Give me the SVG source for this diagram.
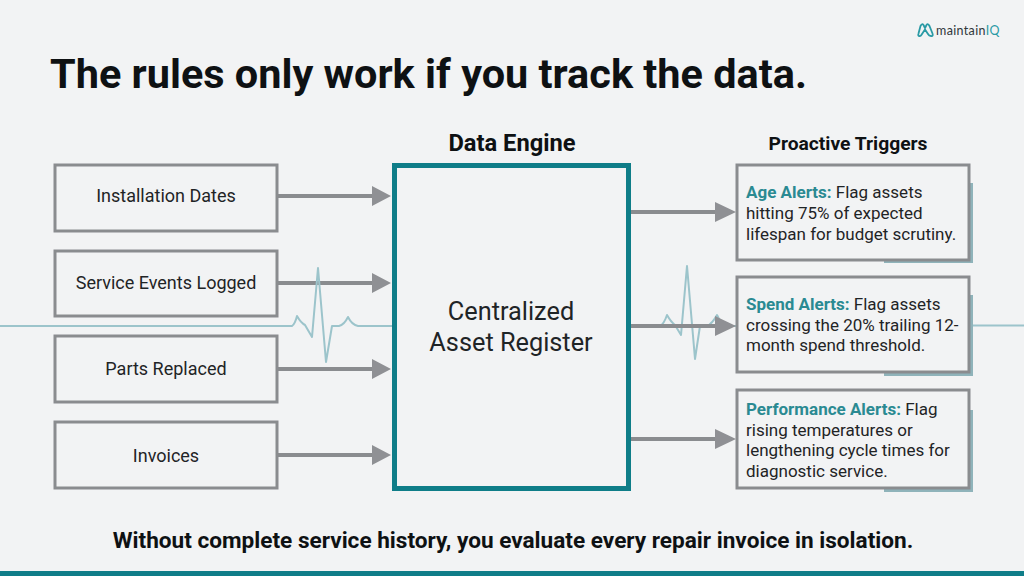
<svg xmlns="http://www.w3.org/2000/svg" width="1024" height="576" viewBox="0 0 1024 576">
<defs>
<style>
text{font-family:Roboto,"Liberation Sans",sans-serif;fill:#1f2426}
.box{fill:#f2f3f4;stroke:#8a8c8f;stroke-width:3}
.lab{font-size:18px;text-anchor:middle}
.alert{font-size:17px}
.teal{fill:#2a8a92;font-weight:700}
.sh{fill:#8fb3ba}
.ekg{fill:none;stroke:#9cc4cb;stroke-width:2;stroke-linejoin:round}
.conn{stroke:#8a8c8f;stroke-width:4;fill:none}
.head{fill:#8f9094}
</style>
</defs>
<rect width="1024" height="576" fill="#f2f3f4"/>
<g id="ekg-right">
<path class="ekg" d="M630 326H660Q664 324 667 315Q671 322 675 325L681 335L687 266L695 359L700 326H707Q712 324 717 315Q721 324 726 326H738"/>
<path class="ekg" d="M970 325.500H1024"/>
</g>
<g id="title"><text x="50" y="88" style="font-size:41.450px;font-weight:700;fill:#0e1113">The rules only work if you track the data.</text></g>
<g id="logo">
<path d="M918.500 33.500Q917.500 36.500 920 36Q921 36 922 34L925 29.500L928 34Q929 36 931 36Q933.500 36.500 932.500 33.500L929.500 26Q928 23 926.500 25L925 28L923.500 25Q922 23 920.500 26Z" fill="none" stroke="#2a9aa5" stroke-width="1.800" stroke-linejoin="round"/>
<text x="936" y="35" style="font-size:12.500px;letter-spacing:.35px;font-family:Lato,sans-serif;fill:#30363a">maintain<tspan fill="#2a9aa5">IQ</tspan></text>
</g>
<g id="connectors">
<path class="conn" d="M277 196H372M277 283H372M277 369H372M277 455H372M631 212H716M631 326H716M631 439H716"/>
<path class="head" d="M372 186L391 196L372 206ZM372 273L391 283L372 293ZM372 359L391 369L372 379ZM372 445L391 455L372 465ZM715 202L736 212L715 222ZM715 316L736 326L715 336ZM715 429L736 439L715 449Z"/>
</g>
<g id="ekg-left">
<path class="ekg" d="M0 326H292Q295 324 297 316Q301 323 305 325L312 337L318 268L326 362L332 326H339Q344 325 348 317Q352 325 358 326H393"/>
</g>
<g id="n-install"><rect class="box" x="55" y="165" width="222" height="66"/><text class="lab" x="166" y="202">Installation Dates</text></g>
<g id="n-service"><rect class="box" x="55" y="251" width="222" height="65"/><text class="lab" x="166" y="289">Service Events Logged</text></g>
<g id="n-parts"><rect class="box" x="55" y="336" width="222" height="66"/><text class="lab" x="166" y="375">Parts Replaced</text></g>
<g id="n-invoices"><rect class="box" x="55" y="422" width="222" height="66"/><text class="lab" x="166" y="462">Invoices</text></g>
<g id="n-engine">
<text x="512" y="151" text-anchor="middle" style="font-size:23.700px;font-weight:700;fill:#0e1113">Data Engine</text>
<rect x="394.500" y="165.500" width="234" height="323" fill="#f2f3f4" stroke="#0f7d88" stroke-width="5"/>
<text x="511" y="320" text-anchor="middle" style="font-size:25.300px">Centralized</text>
<text x="511" y="351" text-anchor="middle" style="font-size:25.300px">Asset Register</text>
</g>
<g id="triggers-head"><text x="848" y="150" text-anchor="middle" style="font-size:19.250px;font-weight:700;fill:#0e1113">Proactive Triggers</text></g>
<g id="n-age">
<path class="sh" d="M884 263V258H968V183H973V263Z"/>
<rect class="box" x="737" y="165" width="232" height="95"/>
<text class="alert" x="746" y="198"><tspan class="teal">Age Alerts:</tspan> Flag assets</text>
<text class="alert" x="746" y="219">hitting 75% of expected</text>
<text class="alert" x="746" y="240">lifespan for budget scrutiny.</text>
</g>
<g id="n-spend">
<path class="sh" d="M884 376V372H968V295H973V376Z"/>
<rect class="box" x="737" y="277" width="232" height="95"/>
<text class="alert" x="746" y="310"><tspan class="teal">Spend Alerts:</tspan> Flag assets</text>
<text class="alert" x="746" y="331">crossing the 20% trailing 12-</text>
<text class="alert" x="746" y="351">month spend threshold.</text>
</g>
<g id="n-perf">
<path class="sh" d="M884 492V488H968V410H973V492Z"/>
<rect class="box" x="737" y="390" width="232" height="98"/>
<text class="alert" x="746" y="415"><tspan class="teal">Performance Alerts:</tspan> Flag</text>
<text class="alert" x="746" y="436">rising temperatures or</text>
<text class="alert" x="746" y="456">lengthening cycle times for</text>
<text class="alert" x="746" y="477">diagnostic service.</text>
</g>
<g id="footer">
<text x="513" y="548" text-anchor="middle" style="font-size:22.600px;font-weight:700;fill:#0e1113">Without complete service history, you evaluate every repair invoice in isolation.</text>
<rect y="571" width="1024" height="5" fill="#0f7d88"/>
</g>
</svg>
